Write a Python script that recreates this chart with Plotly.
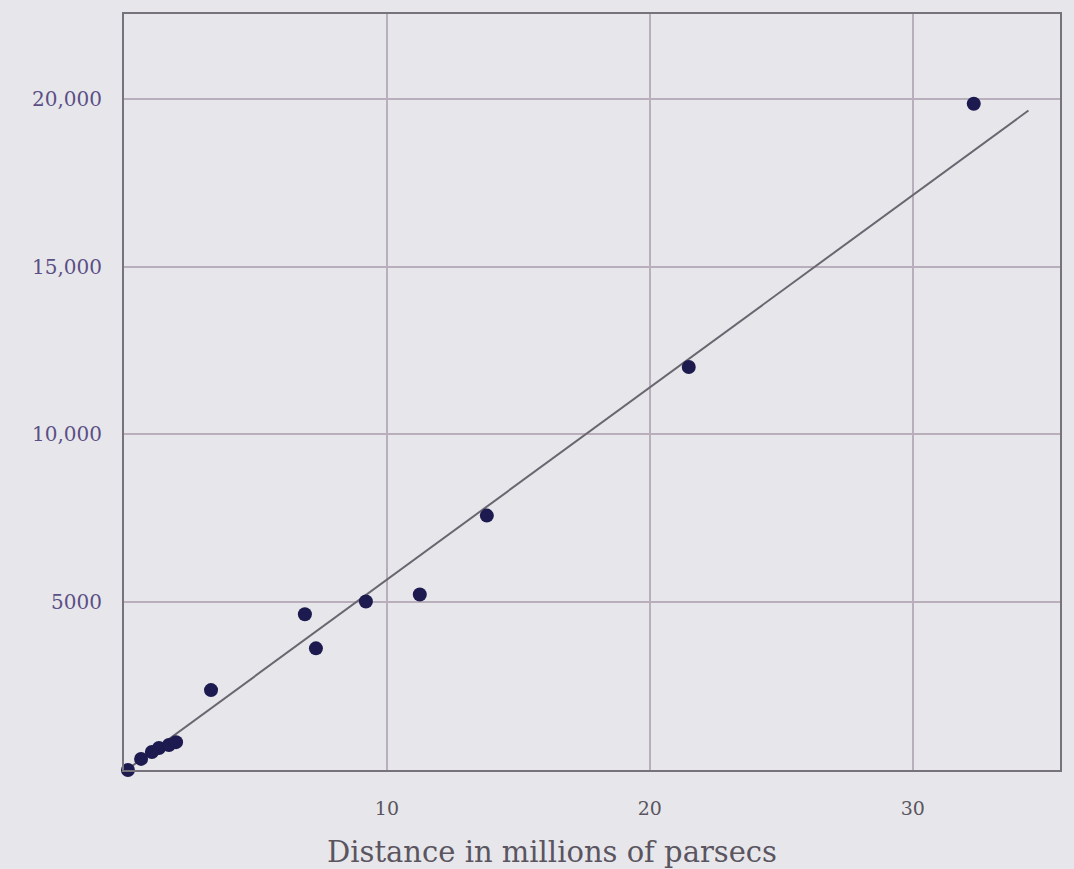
import plotly.graph_objects as go

# Galaxy distances (millions of parsecs) and recession velocities (km/s)
distance_mpc = [0.15, 0.65, 1.06, 1.33, 1.71, 1.98, 3.31, 6.88, 7.30, 9.20, 11.25, 13.80, 21.48, 32.32]
velocity_kms = [0, 330, 535, 655, 745, 830, 2380, 4640, 3625, 5020, 5230, 7580, 12010, 19850]

# Straight-line fit drawn through the points
fit_x = [0.1, 34.4]
fit_y = [0, 19650]

x_ticks = [10, 20, 30]
x_tick_text = ["10", "20", "30"]
y_ticks = [5000, 10000, 15000, 20000]
y_tick_text = ["5000", "10,000", "15,000", "20,000"]

x_title = "Distance in millions of parsecs"

bg = "#e7e7eb"
grid = "#b9aebb"
ink = "#5a5560"
serif = "DejaVu Serif, Liberation Serif, serif"

fig = go.Figure()
fig.add_trace(go.Scatter(
    x=fit_x, y=fit_y, mode="lines",
    line=dict(color="#6a6670", width=2),
    hoverinfo="skip", showlegend=False,
))
fig.add_trace(go.Scatter(
    x=distance_mpc, y=velocity_kms, mode="markers",
    marker=dict(color="#1c1a4e", size=14, line=dict(width=0)),
    cliponaxis=False, showlegend=False,
))

fig.update_layout(
    width=1074, height=869,
    margin=dict(l=124, r=12, t=12, b=99),
    paper_bgcolor=bg, plot_bgcolor=bg,
    font=dict(family=serif, color=ink),
    xaxis=dict(
        range=[0, 35.6], tickvals=x_ticks, ticktext=x_tick_text,
        showgrid=True, gridcolor=grid, gridwidth=1.5,
        showline=True, linecolor="#77737c", linewidth=2, mirror=True,
        zeroline=False, ticks="", ticklabelstandoff=20,
        tickfont=dict(size=19, color=ink),
    ),
    yaxis=dict(
        range=[0, 22526], tickvals=y_ticks, ticktext=y_tick_text,
        showgrid=True, gridcolor=grid, gridwidth=1.5,
        showline=True, linecolor="#77737c", linewidth=2, mirror=True,
        zeroline=False, ticks="", ticklabelstandoff=16,
        tickfont=dict(size=20, color="#5b4f86"),
    ),
    annotations=[dict(
        text=x_title, xref="paper", yref="paper",
        x=0.457, y=-0.108, xanchor="center", yanchor="middle",
        showarrow=False, font=dict(size=29, color=ink),
    )],
)

fig.write_html("out.html")
